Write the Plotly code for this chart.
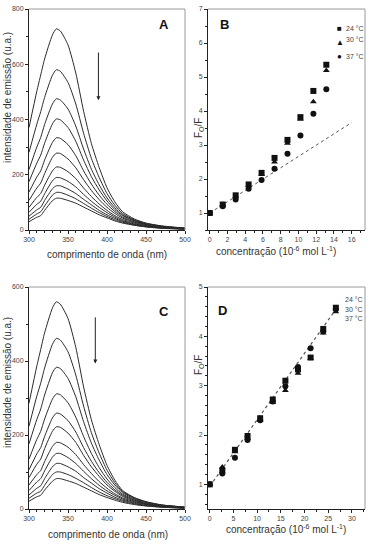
import plotly.graph_objects as go

W, H = 373, 545
FONT = "Liberation Sans, Arial, sans-serif"

# ---------------- Panel A spectra ----------------
wl = [300, 310, 315, 320, 330, 335, 340, 350, 360, 370, 380, 390, 400, 410, 420, 435, 450, 470, 500]
spec_A = [
    [371, 502, 561, 619, 706, 728, 721, 670, 568, 430, 313, 226, 153, 102, 66, 40, 25, 15, 7],
    [281, 383, 428, 480, 560, 580, 575, 534, 456, 350, 259, 190, 132, 90, 60, 37, 24, 14, 6],
    [219, 300, 335, 382, 456, 475, 471, 438, 376, 293, 220, 163, 116, 81, 55, 35, 22, 13, 6],
    [175, 242, 271, 314, 384, 402, 399, 371, 321, 253, 193, 145, 105, 74, 52, 33, 21, 12, 6],
    [137, 192, 214, 253, 317, 334, 332, 309, 269, 214, 166, 126, 93, 67, 47, 30, 20, 11, 5],
    [107, 152, 170, 204, 263, 278, 277, 257, 225, 182, 143, 110, 82, 60, 43, 28, 18, 10, 5],
    [82, 118, 132, 162, 214, 228, 227, 211, 186, 152, 121, 94, 71, 52, 38, 25, 16, 9, 4],
    [64, 93, 104, 131, 178, 190, 189, 176, 156, 129, 104, 82, 63, 47, 34, 22, 15, 8, 4],
    [50, 73, 82, 107, 149, 160, 160, 148, 132, 111, 91, 71, 55, 42, 31, 20, 13, 8, 4],
    [39, 58, 66, 87, 126, 136, 136, 126, 113, 96, 79, 63, 49, 37, 28, 18, 12, 7, 3],
    [30, 46, 52, 71, 106, 115, 115, 107, 97, 83, 69, 55, 44, 33, 25, 17, 11, 6, 3],
]

# ---------------- Panel C spectra ----------------
spec_C = [
    [286, 386, 431, 476, 543, 560, 554, 515, 437, 330, 241, 174, 118, 78, 50, 31, 20, 11, 5],
    [224, 305, 340, 381, 445, 461, 457, 425, 362, 278, 206, 151, 105, 71, 47, 30, 19, 11, 5],
    [176, 242, 270, 308, 368, 383, 380, 353, 303, 236, 178, 132, 93, 65, 44, 28, 18, 10, 5],
    [135, 188, 210, 243, 297, 311, 309, 287, 248, 196, 150, 112, 81, 58, 40, 26, 16, 10, 4],
    [106, 149, 166, 196, 246, 259, 257, 239, 208, 166, 129, 98, 72, 52, 37, 24, 15, 9, 4],
    [85, 121, 135, 163, 210, 222, 221, 205, 180, 145, 114, 88, 65, 48, 34, 22, 14, 8, 4],
    [65, 93, 104, 128, 169, 180, 179, 167, 147, 120, 96, 74, 56, 41, 30, 20, 13, 7, 3],
    [50, 73, 82, 103, 140, 150, 150, 139, 123, 102, 82, 64, 49, 37, 27, 18, 12, 7, 3],
    [38, 56, 63, 82, 114, 123, 123, 114, 102, 85, 70, 55, 43, 32, 24, 16, 10, 6, 3],
    [29, 43, 48, 64, 93, 100, 100, 93, 83, 71, 58, 46, 36, 28, 21, 14, 9, 5, 2],
    [21, 33, 37, 51, 75, 82, 82, 76, 69, 59, 49, 39, 31, 24, 18, 12, 8, 5, 2],
]

# ---------------- Panel B Stern-Volmer ----------------
conc_B = [0, 1.46, 2.92, 4.38, 5.84, 7.30, 8.76, 10.22, 11.68, 13.14]
B_24 = [1.00, 1.25, 1.52, 1.84, 2.18, 2.62, 3.15, 3.82, 4.59, 5.36]
B_30 = [1.00, 1.24, 1.49, 1.81, 2.13, 2.50, 3.05, 3.76, 4.27, 5.19]
B_37 = [1.00, 1.20, 1.40, 1.71, 1.97, 2.30, 2.74, 3.28, 3.92, 4.64]
fitB_x = [0, 16]
fitB_y = [1.0, 3.66]

# ---------------- Panel D Stern-Volmer ----------------
conc_D = [0, 2.66, 5.32, 7.98, 10.64, 13.30, 15.96, 18.62, 21.28, 23.94, 26.60]
D_24 = [1.00, 1.28, 1.70, 1.98, 2.34, 2.72, 3.10, 3.33, 3.57, 4.15, 4.58]
D_30 = [1.00, 1.35, 1.66, 1.93, 2.30, 2.66, 2.90, 3.25, 3.55, 4.07, 4.50]
D_37 = [1.00, 1.22, 1.54, 1.90, 2.30, 2.68, 2.99, 3.38, 3.76, 4.10, 4.55]
fitD_x = [0, 27]
fitD_y = [0.96, 4.60]

temps = ["24 °C", "30 °C", "37 °C"]
symbols = ["square", "triangle-up", "circle"]


def px(x):
    return x / W


def py(y):
    return 1 - y / H


fig = go.Figure()
LINE = "#2a2a2a"

for curve in spec_A:
    fig.add_trace(go.Scatter(x=wl, y=curve, mode="lines", line=dict(color=LINE, width=1, shape="spline", smoothing=0.6),
                             xaxis="x", yaxis="y", showlegend=False, hoverinfo="skip"))
for curve in spec_C:
    fig.add_trace(go.Scatter(x=wl, y=curve, mode="lines", line=dict(color=LINE, width=1, shape="spline", smoothing=0.6),
                             xaxis="x3", yaxis="y3", showlegend=False, hoverinfo="skip"))

fig.add_trace(go.Scatter(x=fitB_x, y=fitB_y, mode="lines", line=dict(color="#555", width=1, dash="dot"),
                         xaxis="x2", yaxis="y2", showlegend=False))
fig.add_trace(go.Scatter(x=fitD_x, y=fitD_y, mode="lines", line=dict(color="#555", width=1.2, dash="dot"),
                         xaxis="x4", yaxis="y4", showlegend=False))

for series, sym in zip([B_37, B_30, B_24], symbols[::-1]):
    fig.add_trace(go.Scatter(x=conc_B, y=series, mode="markers",
                             marker=dict(symbol=sym, size=6, color="#111"),
                             xaxis="x2", yaxis="y2", showlegend=False))
for series, sym in zip([D_37, D_30, D_24], symbols[::-1]):
    fig.add_trace(go.Scatter(x=conc_D, y=series, mode="markers",
                             marker=dict(symbol=sym, size=6, color="#111"),
                             xaxis="x4", yaxis="y4", showlegend=False))

tickfont = dict(family=FONT, size=7, color="#444")


def ax(domain, rng, dtick, mdtick, tick0=0, anchor=None):
    d = dict(domain=domain, range=rng, dtick=dtick, tick0=tick0, ticks="outside", ticklen=3, tickwidth=1,
             tickcolor="#222", showline=True, linecolor="#222", linewidth=1, showgrid=False, zeroline=False,
             tickfont=tickfont, automargin=False, fixedrange=True,
             minor=dict(dtick=mdtick, tick0=tick0, ticks="outside", ticklen=2, tickcolor="#222", showgrid=False))
    if anchor:
        d["anchor"] = anchor
    return d


xA = [px(29), px(185)]
xB = [px(208), px(365)]
yTop = [py(230), py(9)]
yBot = [py(509), py(287)]

fig.update_layout(
    width=W, height=H, margin=dict(l=0, r=0, t=0, b=0),
    paper_bgcolor="white", plot_bgcolor="white", showlegend=False,
    font=dict(family=FONT, color="#333"),
    xaxis=ax(xA, [300, 500], 50, 10, tick0=300, anchor="y"),
    yaxis=ax(yTop, [0, 800], 200, 100, anchor="x"),
    xaxis2=ax(xB, [-0.2, 17.5], 2, 1, anchor="y2"),
    yaxis2=ax(yTop, [0.5, 7], 1, 0.5, anchor="x2"),
    xaxis3=ax(xA, [300, 500], 50, 10, tick0=300, anchor="y3"),
    yaxis3=ax(yBot, [0, 600], 200, 100, anchor="x3"),
    xaxis4=ax(xB, [-0.36, 32.75], 5, 2.5, anchor="y4"),
    yaxis4=ax(yBot, [0.5, 5], 1, 0.2, anchor="x4"),
)

# light frame (top/right) around each panel
for xd, yd in [(xA, yTop), (xB, yTop), (xA, yBot), (xB, yBot)]:
    fig.add_shape(type="line", xref="paper", yref="paper", x0=xd[0], x1=xd[1], y0=yd[1], y1=yd[1],
                  line=dict(color="#9a9a9a", width=1))
    fig.add_shape(type="line", xref="paper", yref="paper", x0=xd[1], x1=xd[1], y0=yd[0], y1=yd[1],
                  line=dict(color="#9a9a9a", width=1))

ann = []


def text(x, y, s, size=10, bold=False, angle=0, xanchor="center", color="#333"):
    if bold:
        s = "<b>" + s + "</b>"
    ann.append(dict(x=px(x), y=py(y), xref="paper", yref="paper", text=s, showarrow=False, textangle=angle,
                    xanchor=xanchor, yanchor="middle", font=dict(family=FONT, size=size, color=color)))


# axis titles
text(107, 254, "comprimento de onda (nm)")
text(108, 534, "comprimento de onda (nm)")
text(7, 98, "intensidade de emissão (u.a.)", angle=-90)
text(7, 383, "intensidade de emissão (u.a.)", angle=-90)
xt = "concentração (10<sup>-6</sup> mol L<sup>-1</sup>)"
text(276, 251, xt)
text(286, 529, xt)
text(199, 128, "F<sub>O</sub>/F", angle=-90)
text(199, 365, "F<sub>O</sub>/F", angle=-90)

# panel letters
text(164, 25, "A", size=13, bold=True, color="#111")
text(225, 24, "B", size=13, bold=True, color="#111")
text(164, 311, "C", size=13, bold=True, color="#111")
text(223, 310, "D", size=13, bold=True, color="#111")

# legend B
for (yy, sym, t) in [(29, "■", temps[0]), (42, "▲", temps[1]), (57, "●", temps[2])]:
    text(339.5, yy, sym, size=8, color="#111")
    text(344, yy - (3 if t == temps[1] else 0), t, size=7, xanchor="left", color="#444")
# legend D
for (yy, t) in [(299, temps[0]), (309, temps[1]), (318, temps[2])]:
    text(343, yy, t, size=7, xanchor="left", color="#444")

# arrows
ann.append(dict(x=389, y=470, ax=389, ay=648, xref="x", yref="y", axref="x", ayref="y", text="",
                showarrow=True, arrowhead=2, arrowsize=0.8, arrowwidth=1, arrowcolor="#222"))
ann.append(dict(x=385, y=393, ax=385, ay=522, xref="x3", yref="y3", axref="x3", ayref="y3", text="",
                showarrow=True, arrowhead=2, arrowsize=0.8, arrowwidth=1, arrowcolor="#222"))

fig.update_layout(annotations=ann)
fig.write_html("out.html", config={"displayModeBar": False},
               post_script="document.body.style.margin='0px';document.body.style.overflow='hidden';")
